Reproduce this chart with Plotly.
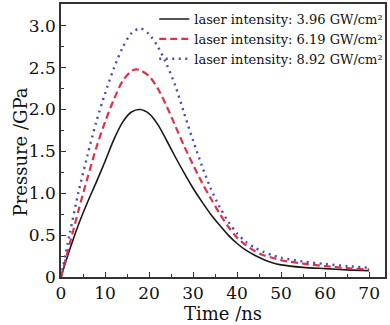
import plotly.graph_objects as go

t_black = [0, 2, 4, 6, 8, 10, 12, 14, 16, 18, 20, 22, 24, 26, 28, 30, 32, 34, 36, 38, 40, 42, 44, 46, 48, 50, 55, 60, 65, 70]
p_black = [0, 0.33, 0.63, 0.89, 1.13, 1.38, 1.64, 1.85, 1.97, 2.0, 1.95, 1.82, 1.63, 1.43, 1.24, 1.06, 0.90, 0.75, 0.62, 0.50, 0.40, 0.32, 0.26, 0.21, 0.17, 0.145, 0.115, 0.10, 0.085, 0.075]

t_red = [0, 2, 4, 6, 8, 10, 12, 14, 16, 17, 18, 20, 22, 24, 26, 28, 30, 32, 34, 36, 38, 40, 42, 44, 46, 48, 50, 55, 60, 65, 70]
p_red = [0, 0.40, 0.80, 1.18, 1.54, 1.85, 2.12, 2.34, 2.46, 2.48, 2.47, 2.40, 2.25, 2.04, 1.80, 1.56, 1.34, 1.13, 0.94, 0.76, 0.60, 0.47, 0.38, 0.31, 0.26, 0.23, 0.20, 0.16, 0.13, 0.105, 0.09]

t_blue = [0, 2, 4, 6, 8, 10, 12, 14, 16, 18, 20, 22, 24, 26, 28, 30, 32, 34, 36, 38, 40, 42, 44, 46, 48, 50, 55, 60, 65, 70]
p_blue = [0, 0.52, 1.02, 1.45, 1.85, 2.19, 2.49, 2.74, 2.91, 2.97, 2.90, 2.75, 2.54, 2.28, 1.95, 1.63, 1.33, 1.06, 0.84, 0.66, 0.52, 0.42, 0.35, 0.30, 0.26, 0.23, 0.185, 0.155, 0.13, 0.11]

series_names = [
    "laser intensity: 3.96 GW/cm²",
    "laser intensity: 6.19 GW/cm²",
    "laser intensity: 8.92 GW/cm²",
]

x_ticks = [0, 10, 20, 30, 40, 50, 60, 70]
x_ticklabels = ["0", "10", "20", "30", "40", "50", "60", "70"]
y_ticks = [0, 0.5, 1.0, 1.5, 2.0, 2.5, 3.0]
y_ticklabels = ["0", "0.5", "1.0", "1.5", "2.0", "2.5", "3.0"]

x_title = "Time /ns"
y_title = "Pressure /GPa"

FONT = "DejaVu Serif"

fig = go.Figure()
fig.add_trace(go.Scatter(x=t_black, y=p_black, mode="lines", name=series_names[0],
                         line=dict(color="#1a1a1a", width=1.6, shape="spline", smoothing=0.8)))
fig.add_trace(go.Scatter(x=t_red, y=p_red, mode="lines", name=series_names[1],
                         line=dict(color="#e0304a", width=2.2, dash="7px,4px", shape="spline", smoothing=0.8)))
fig.add_trace(go.Scatter(x=t_blue, y=p_blue, mode="lines", name=series_names[2],
                         line=dict(color="#4848b8", width=2.4, dash="2px,4.5px", shape="spline", smoothing=0.8)))

axis_common = dict(
    showgrid=False, zeroline=False, showline=True, linecolor="#333333", linewidth=1.5,
    mirror=True, ticks="inside", ticklen=5, tickwidth=1.2, tickcolor="#333333",
    tickfont=dict(family=FONT, size=17, color="#111111"),
)

fig.update_xaxes(
    range=[0, 73.6], tickvals=x_ticks, ticktext=x_ticklabels,
    minor=dict(dtick=5, ticks="inside", ticklen=3, tickcolor="#333333"),
    title=dict(text=x_title, font=dict(family=FONT, size=18, color="#111111"), standoff=3),
    **axis_common,
)
fig.update_yaxes(
    range=[0, 3.26], tickvals=y_ticks, ticktext=y_ticklabels,
    minor=dict(dtick=0.25, ticks="inside", ticklen=3, tickcolor="#333333"),
    **axis_common,
)

fig.add_annotation(
    text=y_title, xref="paper", yref="paper", x=-0.125, y=0.458,
    xanchor="center", yanchor="middle", textangle=-90, showarrow=False,
    font=dict(family=FONT, size=18, color="#111111"),
)

fig.update_layout(
    width=390, height=325,
    margin=dict(l=61, r=2, t=4, b=48),
    paper_bgcolor="white", plot_bgcolor="white",
    showlegend=True,
    legend=dict(x=1.01, xanchor="right", y=1.0, yanchor="top", bgcolor="rgba(0,0,0,0)",
                font=dict(family=FONT, size=13, color="#111111"),
                itemwidth=30, tracegroupgap=0),
)

fig.write_html("out.html")
